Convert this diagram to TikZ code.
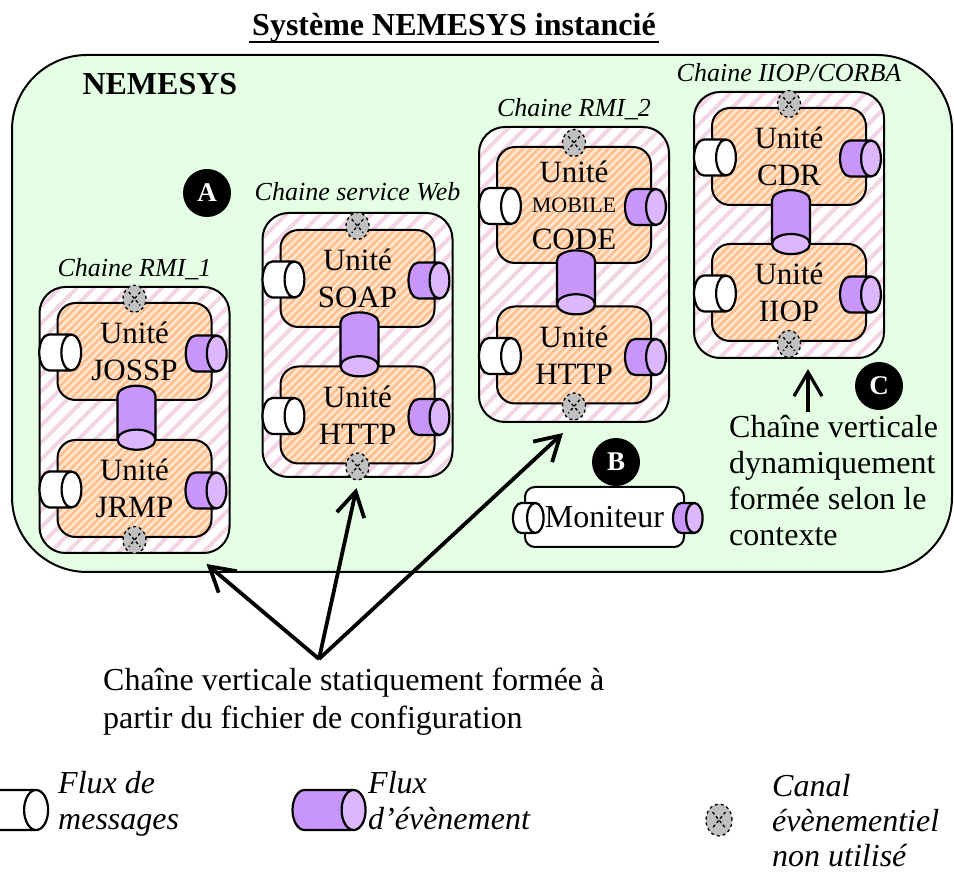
\documentclass[tikz,border=0pt]{standalone}
\usepackage{fontspec}
\setmainfont{Liberation Serif}
\usepackage{tikz}
\usetikzlibrary{positioning,arrows.meta,calc,shapes.geometric,patterns.meta}
\definecolor{sysF}{HTML}{E5FFE5}
\definecolor{unitF}{HTML}{FFE6D0}
\definecolor{unitH}{HTML}{FFBE8C}
\definecolor{chainH}{HTML}{F2D4E4}
\definecolor{evtBody}{HTML}{C896FA}
\definecolor{evtEnd}{HTML}{DCB6FF}
\definecolor{canalF}{HTML}{C0C0C0}

\begin{document}
\begin{tikzpicture}[
    x=1pt,y=-1pt,
    >={Straight Barb[length=24pt,width=28pt]},
    font=\fontsize{32}{37}\selectfont,
    sysbox/.style={draw,line width=2pt,fill=sysF,rounded corners=75pt,
                   minimum width=940pt,minimum height=517pt,inner sep=0pt},
    chainbox/.style={draw,line width=2pt,rounded corners=26pt,
                     preaction={fill=white},
                     pattern={Lines[angle=45,distance=12pt,line width=4pt]},
                     pattern color=chainH,
                     minimum width=190pt,minimum height=266pt,inner sep=0pt},
    unit/.style={draw,line width=2pt,rounded corners=18pt,
                 preaction={fill=unitF},
                 pattern={Lines[angle=45,distance=5.5pt,line width=2.5pt]},
                 pattern color=unitH,
                 minimum width=154pt,minimum height=97pt,inner sep=0pt,
                 align=center,font=\fontsize{31}{37}\selectfont},
    cyl/.style={cylinder,draw,line width=2.2pt,inner xsep=10.5pt,inner ysep=18pt,
                aspect=0.55,cylinder uses custom fill},
    msgcyl/.style={cyl,cylinder body fill=white,cylinder end fill=white},
    evtcyl/.style={cyl,cylinder body fill=evtBody,cylinder end fill=evtEnd},
    linkcyl/.style={evtcyl,shape border rotate=270,inner sep=19pt,aspect=0.53,
                    minimum width=38pt,minimum height=64pt},
    canal/.style={ellipse,draw,dashed,line width=1.3pt,fill=canalF,
                  minimum width=23pt,minimum height=27pt,inner sep=0pt,
                  path picture={
                    \draw[line width=1.3pt,dash pattern=on 3pt off 2.5pt]
                      ($(path picture bounding box.north west)!0.25!(path picture bounding box.south east)$)
                   -- ($(path picture bounding box.north west)!0.75!(path picture bounding box.south east)$)
                      ($(path picture bounding box.north east)!0.25!(path picture bounding box.south west)$)
                   -- ($(path picture bounding box.north east)!0.75!(path picture bounding box.south west)$);}},
    badge/.style={circle,fill=black,text=white,minimum size=48pt,inner sep=0pt,
                  font=\bfseries\fontsize{27}{27}\selectfont},
    chainlbl/.style={anchor=base,font=\itshape\fontsize{26}{30}\selectfont},
    note/.style={anchor=north west,align=left,inner sep=0pt},
    legend/.style={anchor=north west,align=left,inner sep=0pt,
                   font=\itshape\fontsize{32}{36}\selectfont},
    fat/.style={->,line width=3.8pt},
]
\useasboundingbox (0,0) rectangle (954,874);

% ---------------------------------------------------------------
%  title + system frame
% ---------------------------------------------------------------
\node[anchor=base,font=\bfseries\fontsize{32}{37}\selectfont] (title)
     at (454,36) {Système NEMESYS instancié};
\draw[line width=2.5pt] ([yshift=-6pt]title.base west) -- ([yshift=-6pt]title.base east);

\node[sysbox] (sys) at (482,313.5) {};
\node[anchor=base west,font=\bfseries\fontsize{32}{37}\selectfont] (sysname)
     at (79,95) {NEMESYS};

% ---------------------------------------------------------------
%  the four vertical chains
% ---------------------------------------------------------------
\node[chainbox] (rmiA) at (134.5,420) {};
\node[chainbox,minimum height=264pt] (web) at (357.5,345) {};
\node[chainbox,minimum height=295pt] (rmiB) at (574,274.5) {};
\node[chainbox] (iiop) at (789,225) {};

\node[chainlbl] (rmiA-lbl) at (134.5,277) {Chaine RMI\_1};
\node[chainlbl] (web-lbl)  at (357.5,201) {Chaine service Web};
\node[chainlbl] (rmiB-lbl) at (574,117)   {Chaine RMI\_2};
\node[chainlbl] (iiop-lbl) at (789,82)    {Chaine IIOP/CORBA};

% units
\node[unit] (jossp) at (134.5,351.5) {Unité\\JOSSP};
\node[unit] (jrmp)  at (134.5,488.5) {Unité\\JRMP};
\node[unit] (soap)  at (357.5,278.5) {Unité\\SOAP};
\node[unit] (httpW) at (357.5,415)   {Unité\\HTTP};
\node[unit,minimum height=116pt] (mobile) at (574,205)
     {Unité\\[-7pt]\fontsize{22}{28}\selectfont MOBILE\\CODE};
\node[unit] (httpR) at (574,355)     {Unité\\HTTP};
\node[unit] (cdr)   at (789,156.5)   {Unité\\CDR};
\node[unit] (iiopU) at (789,292.5)   {Unité\\IIOP};

% message flow in, event flow out, on each unit
% (a cylinder node sits one end radius off its middle, hence the shifts)
\foreach \n in {jossp,jrmp,soap,httpW,mobile,httpR,cdr,iiopU}{
   \node[msgcyl] (\n-msg) at ([xshift=-6.5pt,yshift=-1pt]\n.west) {};
   \node[evtcyl,inner xsep=10pt] (\n-evt) at ([xshift=-17pt,yshift=-2pt]\n.east) {};
}

% event flow linking the two units of a chain
\foreach \a/\b in {jossp/jrmp,soap/httpW,mobile/httpR,cdr/iiopU}
   \node[linkcyl] (\a-\b) at ($(\a.south)!0.5!(\b.north)+(2pt,13pt)$) {};

% unused event channels at both ends of each chain
\foreach \n in {jossp,soap,mobile,cdr}
   \node[canal] (\n-top) at ([yshift=3pt]\n.north) {};
\foreach \n in {jrmp,httpW,httpR,iiopU}
   \node[canal] (\n-bot) at ([yshift=-2pt]\n.south) {};

% ---------------------------------------------------------------
%  monitor + badges
% ---------------------------------------------------------------
\node[draw,line width=2pt,fill=white,rounded corners=10pt,minimum width=159pt,
      minimum height=60pt,inner sep=0pt] (monitor) at (604.5,517) {Moniteur};
\node[msgcyl,inner xsep=6.5pt,inner ysep=15pt] (monitor-msg) at (519.5,518) {};
\node[evtcyl,inner xsep=6pt,inner ysep=15pt] (monitor-evt) at (679,518) {};

\node[badge] (bA) at (207,193) {A};
\node[badge] (bB) at (616,462) {B};
\node[badge] (bC) at (879,386) {C};

% ---------------------------------------------------------------
%  static / dynamic chain notes
% ---------------------------------------------------------------
\node[note,font=\fontsize{32}{38}\selectfont] (statnote) at (103,668)
     {Chaîne verticale statiquement formée à\\partir du fichier de configuration};
\coordinate (statorig) at (319,659);
\draw[fat] (statorig) -- ([xshift=72pt,yshift=-9pt]rmiA.south);
\draw[fat] (statorig) -- ([xshift=-1pt,yshift=-10pt]web.south);
\draw[fat] (statorig) -- ([xshift=-11pt,yshift=-10pt]rmiB.south);

\node[note,font=\fontsize{32}{36}\selectfont] (dynnote) at (729,415)
     {Chaîne verticale\\dynamiquement\\formée selon le\\contexte};
\coordinate (dynorig) at (808,412);
\draw[fat,line width=3.2pt] (dynorig) -- ([xshift=19pt,yshift=-10pt]iiop.south);

% ---------------------------------------------------------------
%  legend
% ---------------------------------------------------------------
\node[msgcyl,inner xsep=24pt,inner ysep=20pt,aspect=0.6] (lgMsg) at (-1,810) {};
\node[legend] (lgMsgTxt) at (58,771) {Flux de\\messages};
\node[evtcyl,inner xsep=24pt,inner ysep=20pt,aspect=0.6] (lgEvt) at (316.5,810) {};
\node[legend] (lgEvtTxt) at (368,771) {Flux\\d’évènement};
\node[canal,minimum width=26pt,minimum height=32pt] (lgCanal) at (719,820) {};
\node[legend,font=\itshape\fontsize{32}{35}\selectfont] (lgCanalTxt) at (772,774)
     {Canal\\évènementiel\\non utilisé};

\end{tikzpicture}
\end{document}
